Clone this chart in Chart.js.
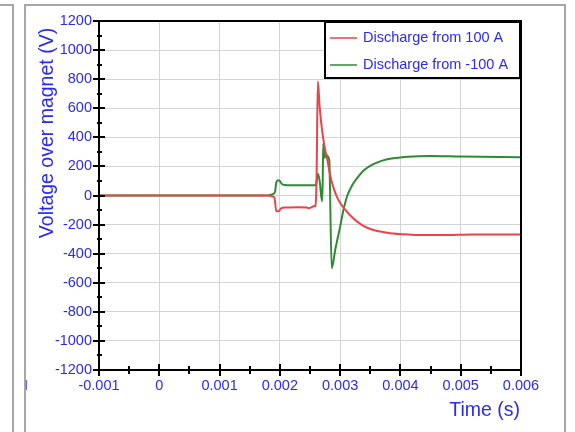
<!DOCTYPE html>
<html>
<head>
<meta charset="utf-8">
<script src="https://cdn.jsdelivr.net/npm/chart.js@4/dist/chart.umd.min.js"></script>
<style>
  html, body { margin: 0; padding: 0; background: #ffffff; }
  #wrap { position: relative; width: 575px; height: 432px; }
</style>
</head>
<body>
<div id="wrap"><canvas id="c" width="575" height="432"></canvas></div>
<script>
// Time axis (s) and voltage readings (V) for both discharge runs
const timeRed = [-0.001, 0.00180, 0.00186, 0.00191, 0.00194, 0.00198, 0.00202, 0.00210, 0.00230, 0.00245, 0.00248, 0.00252, 0.00257, 0.00259, 0.00260, 0.00261, 0.00263, 0.00266, 0.00270, 0.00274, 0.00279, 0.00284, 0.00290, 0.00297, 0.00307, 0.00320, 0.00335, 0.00350, 0.00378, 0.00405, 0.00430, 0.00470, 0.00520, 0.00600];
const voltRed = [0, 0, -5, -15, -105, -108, -88, -82, -80, -82, -88, -82, -72, -75, -20, 150, 785, 610, 450, 340, 240, 130, 40, -30, -90, -150, -200, -230, -256, -267, -272, -272, -268, -268];

const timeGreen = [-0.001, 0.00180, 0.00187, 0.00192, 0.00194, 0.00197, 0.00200, 0.00203, 0.00208, 0.00230, 0.00258, 0.00260, 0.00263, 0.00266, 0.00270, 0.00271, 0.00272, 0.00274, 0.00277, 0.00280, 0.00282, 0.00286, 0.00292, 0.00300, 0.00306, 0.00312, 0.00320, 0.00330, 0.00340, 0.00355, 0.00370, 0.00385, 0.00400, 0.00430, 0.00450, 0.00500, 0.00600];
const voltGreen = [0, 0, 8, 25, 90, 105, 100, 80, 72, 70, 70, 75, 150, 100, -40, 80, 360, 260, 279, 267, 240, -500, -370, -214, -90, 0, 70, 130, 175, 215, 240, 254, 262, 270, 272, 268, 263];

const seriesLabels = ['Discharge from 100 A', 'Discharge from -100 A'];
const seriesColors = ['#e8454a', '#2f8a34'];

const xMin = -0.001, xMax = 0.006, xMajor = 0.001, xMinor = 0.0005;
const yMin = -1200, yMax = 1200, yMajor = 200, yMinor = 100;
const xTitle = 'Time (s)';
const yTitle = 'Voltage over magnet (V)';

const toPoints = (ts, vs) => ts.map((t, i) => ({ x: t, y: vs[i] }));

const BLUE = '#2a2af5';
const FONT = 'Liberation Sans, Arial, sans-serif';

function isMajor(v, step) {
  const r = v / step;
  return Math.abs(r - Math.round(r)) < 1e-6;
}

// Ticks at minor spacing; only the major ones carry labels and grid lines
function buildTicks(min, max, minor) {
  const out = [];
  const n = Math.round((max - min) / minor);
  for (let i = 0; i <= n; i++) out.push({ value: +(min + i * minor).toFixed(8) });
  return out;
}

function fmtX(v) {
  if (Math.abs(v) < 1e-12) return '0';
  return (+v.toFixed(4)).toString();
}

// Window frame, axis box, crossing tick marks, titles and legend
const decorations = {
  id: 'decorations',
  beforeDraw(chart) {
    const ctx = chart.ctx;
    ctx.save();
    ctx.strokeStyle = '#a6a6a6';
    ctx.lineWidth = 2;
    ctx.beginPath();
    ctx.moveTo(0, 5); ctx.lineTo(13, 5); ctx.lineTo(13, 432);
    ctx.moveTo(25, 432); ctx.lineTo(25, 5); ctx.lineTo(565, 5); ctx.lineTo(565, 432);
    ctx.stroke();
    ctx.restore();
  },
  afterDraw(chart) {
    const ctx = chart.ctx;
    const a = chart.chartArea;
    const xs = chart.scales.x, ys = chart.scales.y;
    ctx.save();

    // plot box
    ctx.strokeStyle = '#000';
    ctx.lineWidth = 2;
    ctx.strokeRect(a.left, a.top, a.right - a.left, a.bottom - a.top);

    // tick marks crossing the axes
    ctx.lineWidth = 2;
    ctx.beginPath();
    xs.ticks.forEach(t => {
      const px = Math.round(xs.getPixelForValue(t.value));
      const major = isMajor(t.value, xMajor);
      ctx.moveTo(px, a.bottom - (major ? 6 : 4));
      ctx.lineTo(px, a.bottom + (major ? 6 : 4));
    });
    ys.ticks.forEach(t => {
      const py = Math.round(ys.getPixelForValue(t.value));
      const major = isMajor(t.value, yMajor);
      ctx.moveTo(a.left - (major ? 6 : 2), py);
      ctx.lineTo(a.left + (major ? 6 : 3), py);
    });
    ctx.stroke();

    // axis titles
    ctx.fillStyle = BLUE;
    ctx.font = '19.5px ' + FONT;
    ctx.textAlign = 'right';
    ctx.textBaseline = 'middle';
    ctx.fillText(xTitle, 520, 411);
    ctx.save();
    ctx.translate(48, 133);
    ctx.rotate(-Math.PI / 2);
    ctx.textAlign = 'center';
    ctx.fillText(yTitle, 0, 0);
    ctx.restore();

    // stray marker at the lower left
    ctx.font = '10px ' + FONT;
    ctx.textAlign = 'left';
    ctx.fillText('|', 25, 385);

    // legend box
    const lx = 325, ly = 22, lw = 195, lh = 56;
    ctx.fillStyle = '#fff';
    ctx.fillRect(lx, ly, lw, lh);
    ctx.strokeStyle = '#000';
    ctx.lineWidth = 2;
    ctx.strokeRect(lx, ly, lw, lh);
    ctx.font = '14.5px ' + FONT;
    ctx.textBaseline = 'middle';
    chart.data.datasets.forEach((ds, i) => {
      const cy = ly + 16 + i * 27;
      ctx.strokeStyle = ds.borderColor;
      ctx.lineWidth = 1.5;
      ctx.beginPath();
      ctx.moveTo(lx + 5, cy); ctx.lineTo(lx + 32, cy);
      ctx.stroke();
      ctx.fillStyle = BLUE;
      ctx.fillText(ds.label, lx + 38, cy);
    });
    ctx.restore();
  }
};

new Chart(document.getElementById('c'), {
  type: 'line',
  data: {
    datasets: [
      { label: seriesLabels[0], data: toPoints(timeRed, voltRed), borderColor: seriesColors[0], borderWidth: 2, pointRadius: 0, cubicInterpolationMode: 'monotone', fill: false },
      { label: seriesLabels[1], data: toPoints(timeGreen, voltGreen), borderColor: seriesColors[1], borderWidth: 2, pointRadius: 0, cubicInterpolationMode: 'monotone', fill: false }
    ]
  },
  options: {
    responsive: false,
    animation: false,
    events: [],
    layout: { padding: { top: 21, right: 54, left: 0, bottom: 0 } },
    plugins: { legend: { display: false }, tooltip: { enabled: false } },
    scales: {
      x: {
        type: 'linear', min: xMin, max: xMax,
        afterBuildTicks: s => { s.ticks = buildTicks(xMin, xMax, xMinor); },
        afterFit: s => { s.height = 62; },
        border: { display: false },
        grid: {
          drawTicks: false,
          color: c => (c.tick && isMajor(c.tick.value, xMajor)) ? '#d4d4d4' : 'rgba(0,0,0,0)',
          lineWidth: 1
        },
        ticks: {
          autoSkip: false, maxRotation: 0, padding: 7,
          color: BLUE, font: { family: FONT, size: 14.5 },
          callback: v => isMajor(v, xMajor) ? fmtX(v) : ''
        }
      },
      y: {
        type: 'linear', min: yMin, max: yMax,
        afterBuildTicks: s => { s.ticks = buildTicks(yMin, yMax, yMinor); },
        afterFit: s => { s.width = 99; },
        border: { display: false },
        grid: {
          drawTicks: false,
          color: c => (c.tick && isMajor(c.tick.value, yMajor)) ? '#d4d4d4' : 'rgba(0,0,0,0)',
          lineWidth: 1
        },
        ticks: {
          autoSkip: false, padding: 7,
          color: BLUE, font: { family: FONT, size: 14.5 },
          callback: v => isMajor(v, yMajor) ? String(Math.round(v)) : ''
        }
      }
    }
  },
  plugins: [decorations]
});
</script>
</body>
</html>
